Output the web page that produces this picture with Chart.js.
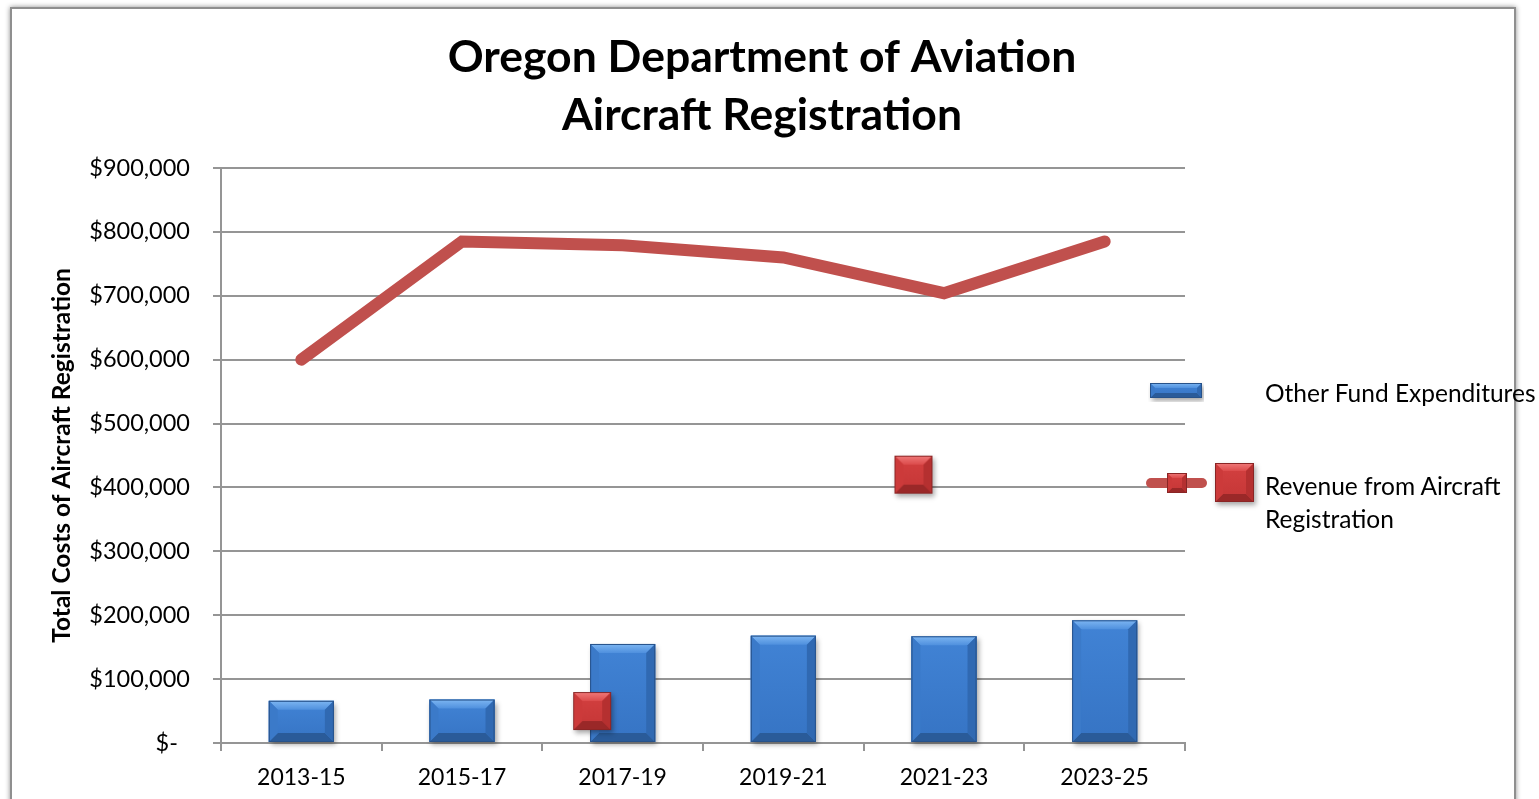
<!DOCTYPE html>
<html><head><meta charset="utf-8">
<script src="https://cdn.jsdelivr.net/npm/chart.js@4.4.0/dist/chart.umd.min.js"></script>
<style>
html,body{margin:0;padding:0;background:#fff;width:1539px;height:799px;overflow:hidden;font-family:Lato,sans-serif;}
#frame{position:absolute;left:10px;top:7px;width:1502px;height:830px;border:2px solid #8f8f8f;box-shadow:0 0 5px rgba(0,0,0,0.45);background:#fff;}
#wrap{position:absolute;left:0;top:0;width:1524px;height:799px;}
.lgt{position:absolute;font-family:Lato,sans-serif;font-size:24.5px;line-height:33px;color:#000;white-space:nowrap;}
.sym{position:absolute;}
</style>
</head><body>
<div id="frame"></div>
<div id="wrap"><canvas id="c" width="1524" height="799"></canvas></div>
<canvas class="sym" id="symBar" width="56" height="22" style="left:1148px;top:380px;"></canvas>
<canvas class="sym" id="symLine" width="130" height="64" style="left:1140px;top:455px;"></canvas>
<div class="lgt" style="left:1265px;top:376px;">Other Fund Expenditures</div>
<div class="lgt" style="left:1265px;top:469px;">Revenue from Aircraft<br>Registration</div>
<script>
// ---- data ----
const categories = ['2013-15','2015-17','2017-19','2019-21','2021-23','2023-25'];
const otherFundExpenditures = [66000, 68000, 155000, 168000, 167000, 192000];
const revenueFromRegistration = [600000, 785000, 779000, 760000, 704000, 785000];
const strayMarkerX = [1.81, 3.81];          // category-index positions of the loose red markers
const strayMarkerY = [50000, 420000];
const yTickValues = [0,100000,200000,300000,400000,500000,600000,700000,800000,900000];
const yTickLabels = ['$-  ','$100,000','$200,000','$300,000','$400,000','$500,000','$600,000','$700,000','$800,000','$900,000'];
const seriesNames = ['Other Fund Expenditures','Revenue from Aircraft Registration'];

const BLUE = {top1:'#7db6f2',top2:'#4f90de',mid1:'#4183d5',mid2:'#3674c4',left:'#3b7ac9',right:'#3069b2',bottom:'#2a5b99',border:'#27528a'};
const RED  = {top1:'#f07a7a',top2:'#dc4b4b',mid1:'#d44040',mid2:'#c43636',left:'#cc3a3a',right:'#b53030',bottom:'#9a2828',border:'#8a2525'};

function bevelRect(ctx,l,t,r,b,c,d,shadow){
  d=Math.min(d,(r-l)/2,(b-t)/2);
  const poly=(pts,col)=>{ctx.beginPath();ctx.moveTo(pts[0][0],pts[0][1]);for(let i=1;i<pts.length;i++)ctx.lineTo(pts[i][0],pts[i][1]);ctx.closePath();ctx.fillStyle=col;ctx.fill();};
  ctx.save();
  if(shadow){ctx.shadowColor='rgba(0,0,0,0.35)';ctx.shadowBlur=5;ctx.shadowOffsetX=2;ctx.shadowOffsetY=3;}
  const g=ctx.createLinearGradient(0,t,0,b);g.addColorStop(0,c.mid1);g.addColorStop(1,c.mid2);
  ctx.fillStyle=g;ctx.fillRect(l,t,r-l,b-t);
  ctx.restore();
  const gt=ctx.createLinearGradient(0,t,0,t+d);gt.addColorStop(0,c.top1);gt.addColorStop(1,c.top2);
  poly([[l,t],[r,t],[r-d,t+d],[l+d,t+d]],gt);
  poly([[l,b],[r,b],[r-d,b-d],[l+d,b-d]],c.bottom);
  poly([[l,t],[l+d,t+d],[l+d,b-d],[l,b]],c.left);
  poly([[r,t],[r-d,t+d],[r-d,b-d],[r,b]],c.right);
  ctx.strokeStyle=c.border;ctx.lineWidth=1;ctx.strokeRect(l+0.5,t+0.5,r-l-1,b-t-1);
}

// marker image for the loose red squares
const markerImg=document.createElement('canvas');markerImg.width=56;markerImg.height=56;
bevelRect(markerImg.getContext('2d'),9,9,47,47,RED,9,true);

// legend symbols
(function(){
  const a=document.getElementById('symBar').getContext('2d');
  bevelRect(a,2,3,54,18,BLUE,5,true);
  const b=document.getElementById('symLine').getContext('2d');
  b.strokeStyle='#c0504d';b.lineWidth=10;b.lineCap='round';
  b.beginPath();b.moveTo(11,28);b.lineTo(62,28);b.stroke();
  bevelRect(b,27,18,47,38,RED,5,false);
  bevelRect(b,75,8,114,47,RED,8,true);
})();

const bevelPlugin={id:'bevel',afterDatasetDraw(chart,args){
  if(args.index!==0)return;
  const ctx=chart.ctx;ctx.save();
  args.meta.data.forEach(el=>{
    const p=el.getProps(['x','y','base','width'],true);
    bevelRect(ctx,p.x-p.width/2,p.y,p.x+p.width/2,p.base,BLUE,9,true);
  });
  ctx.restore();
}};

const gridColor='#959595';
new Chart(document.getElementById('c'),{
  data:{
    labels:categories,
    datasets:[
      {type:'bar',label:seriesNames[0],data:otherFundExpenditures,backgroundColor:'#3a7bd0',borderWidth:0,grouped:false,
       barPercentage:0.405,categoryPercentage:1,order:3,xAxisID:'x',yAxisID:'y'},
      {type:'line',label:seriesNames[1],data:revenueFromRegistration,borderColor:'#c0504d',borderWidth:12,
       borderCapStyle:'round',borderJoinStyle:'miter',pointRadius:0,tension:0,fill:false,order:2,xAxisID:'x',yAxisID:'y'},
      {type:'scatter',label:'marker',data:strayMarkerX.map((v,i)=>({x:v,y:strayMarkerY[i]})),
       pointStyle:markerImg,pointRadius:20,showLine:false,order:1,xAxisID:'xs',yAxisID:'y',clip:false}
    ]
  },
  plugins:[bevelPlugin],
  options:{
    responsive:false,animation:false,
    layout:{padding:{left:0,right:0,top:0,bottom:0}},
    plugins:{
      legend:{display:false},tooltip:{enabled:false},
      title:{display:true,text:['Oregon Department of Aviation','Aircraft Registration'],color:'#000',
        font:{family:'Lato',size:44.5,weight:'bold',lineHeight:1.303},padding:{top:29,bottom:23}}
    },
    scales:{
      x:{type:'category',position:'bottom',offset:true,
        grid:{display:true,drawOnChartArea:false,drawTicks:true,tickLength:8,offset:true,color:gridColor,lineWidth:2},
        border:{display:true,color:gridColor,width:2},
        ticks:{color:'#000',font:{family:'Lato',size:23},padding:13,maxRotation:0,autoSkip:false},
        afterFit:s=>{s.height=56;}},
      xs:{type:'linear',display:false,min:-0.5,max:5.5},
      y:{type:'linear',position:'left',min:0,max:900000,
        afterBuildTicks:s=>{s.ticks=yTickValues.map(v=>({value:v}));},
        grid:{display:true,drawTicks:true,tickLength:8,color:gridColor,lineWidth:2},
        border:{display:true,color:gridColor,width:2},
        ticks:{color:'#000',font:{family:'Lato',size:23.5},padding:23,callback:(v,i)=>yTickLabels[yTickValues.indexOf(v)]},
        title:{display:true,text:'Total Costs of Aircraft Registration',color:'#000',
          font:{family:'Lato',size:24.5,weight:'bold',lineHeight:1.2},padding:{top:47,bottom:0}},
        afterFit:s=>{s.width=221;}},
      yR:{type:'linear',position:'right',display:true,
        grid:{display:false},border:{display:false},ticks:{display:false},
        afterFit:s=>{s.width=339;}}
    }
  }
});
</script>
</body></html>
